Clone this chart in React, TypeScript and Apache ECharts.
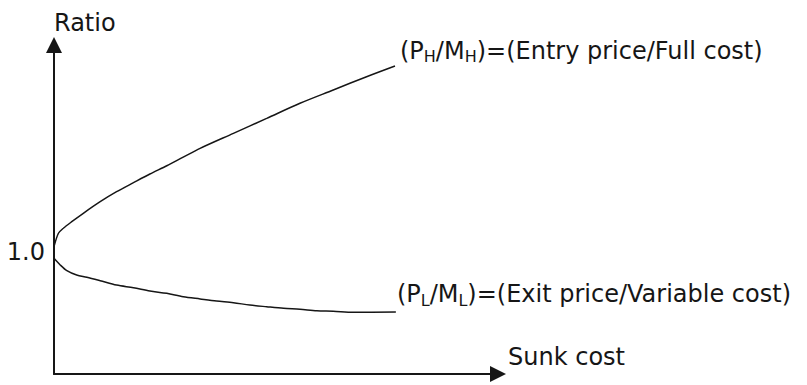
import React, { useEffect, useRef } from "react";
import * as echarts from "echarts";

// Data (sunk cost in arbitrary units, ratio)
const sunkCostUpper = [0, 0.1, 0.21, 0.4, 0.66, 1.04, 1.41, 1.79, 2.16, 2.54, 2.91, 3.29, 4.04, 4.79, 5.54, 6.29, 7.04, 7.68];
const ratioUpper = [1.045, 1.155, 1.196, 1.25, 1.319, 1.414, 1.496, 1.57, 1.641, 1.709, 1.78, 1.852, 1.975, 2.098, 2.222, 2.331, 2.44, 2.528];

const sunkCostLower = [0, 0.14, 0.29, 0.51, 0.74, 1.04, 1.41, 1.79, 2.16, 2.54, 2.91, 3.29, 3.66, 4.04, 4.41, 4.79, 5.17, 5.54, 5.92, 6.29, 6.74, 7.7];
const ratioLower = [0.95, 0.895, 0.848, 0.812, 0.794, 0.766, 0.73, 0.708, 0.681, 0.662, 0.634, 0.616, 0.599, 0.585, 0.566, 0.552, 0.539, 0.531, 0.519, 0.515, 0.506, 0.508];

const yTickValue = 1;
const yTickLabel = "1.0";
const xAxisName = "Sunk cost";
const yAxisName = "Ratio";
const upperLabel = "(P{sub|H}/M{sub|H})=(Entry price/Full cost)";
const lowerLabel = "(P{sub|L}/M{sub|L})=(Exit price/Variable cost)";

const FONT = "DejaVu Sans";
const INK = "#161616";

export default function App() {
  const ref = useRef<HTMLDivElement>(null);
  useEffect(() => {
    if (!ref.current) return;
    const chart = echarts.init(ref.current, null, { renderer: "svg" });
    const upper = sunkCostUpper.map((x, i) => [x, ratioUpper[i]]);
    const lower = sunkCostLower.map((x, i) => [x, ratioLower[i]]);
    const lastUpper = upper[upper.length - 1];
    const lastLower = lower[lower.length - 1];
    const richSub = {
      sub: { fontSize: 16, fontFamily: FONT, color: INK, verticalAlign: "bottom" },
    };
    chart.setOption({
      animation: false,
      backgroundColor: "#ffffff",
      grid: { left: 54, right: 309, top: 45, bottom: 11, containLabel: false, outerBoundsMode: "none" },
      xAxis: {
        type: "value",
        min: 0,
        max: 10,
        name: xAxisName,
        nameLocation: "end",
        nameGap: 10,
        nameTextStyle: { fontSize: 24, fontFamily: FONT, color: INK, align: "left", verticalAlign: "bottom", lineHeight: 34 },
        axisLine: { show: true, symbol: ["none", "triangle"], symbolSize: [16, 16], lineStyle: { color: INK, width: 2 } },
        axisTick: { show: false },
        axisLabel: { show: false },
        splitLine: { show: false },
      },
      yAxis: {
        type: "value",
        min: 0,
        max: 2.7,
        interval: 1,
        name: yAxisName,
        nameLocation: "end",
        nameGap: 22,
        nameTextStyle: { fontSize: 24, fontFamily: FONT, color: INK, align: "left", verticalAlign: "middle" },
        axisLine: { show: true, symbol: ["none", "triangle"], symbolSize: [16, 16], lineStyle: { color: INK, width: 2 } },
        axisTick: { show: false },
        axisLabel: {
          show: true,
          margin: 9,
          fontSize: 24,
          fontFamily: FONT,
          color: INK,
          showMaxLabel: false,
          formatter: (v: number) => (v === yTickValue ? yTickLabel : ""),
        },
        splitLine: { show: false },
      },
      series: [
        {
          type: "line",
          data: upper,
          showSymbol: false,
          smooth: 0.3,
          lineStyle: { color: INK, width: 1.5 },
          silent: true,
          markPoint: {
            symbol: "circle",
            symbolSize: 0,
            itemStyle: { color: "transparent" },
            data: [
              {
                coord: lastUpper,
                label: {
                  show: true,
                  position: "right",
                  distance: 5,
                  offset: [0, -15],
                  formatter: upperLabel,
                  fontSize: 24,
                  fontFamily: FONT,
                  color: INK,
                  lineHeight: 28,
                  rich: richSub,
                },
              },
            ],
          },
        },
        {
          type: "line",
          data: lower,
          showSymbol: false,
          smooth: 0.3,
          lineStyle: { color: INK, width: 1.5 },
          silent: true,
          markPoint: {
            symbol: "circle",
            symbolSize: 0,
            itemStyle: { color: "transparent" },
            data: [
              {
                coord: lastLower,
                label: {
                  show: true,
                  position: "right",
                  distance: 1,
                  offset: [0, -18],
                  formatter: lowerLabel,
                  fontSize: 24,
                  fontFamily: FONT,
                  color: INK,
                  lineHeight: 28,
                  rich: richSub,
                },
              },
            ],
          },
        },
      ],
    });
    return () => chart.dispose();
  }, []);
  return (
    <div
      ref={ref}
      style={{ position: "absolute", left: 0, top: 0, width: 807, height: 385, background: "#fff" }}
    />
  );
}
